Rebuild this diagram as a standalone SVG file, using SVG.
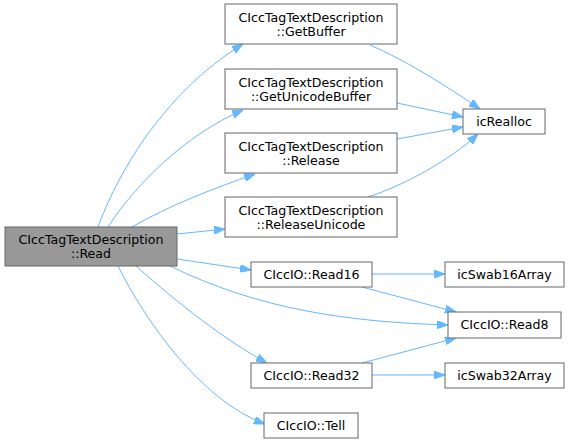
<svg xmlns="http://www.w3.org/2000/svg" width="569" height="443" viewBox="0 0 569 443">
<style>
.n rect{fill:#fff;stroke:#666;stroke-width:1}
.n text{font-family:"DejaVu Sans",sans-serif;font-size:12.6px;fill:#000;text-anchor:middle}
.e path{fill:none;stroke:#63b8ff;stroke-width:1;marker-end:url(#a)}
</style>
<defs>
<marker id="a" viewBox="0 0 11 8" refX="11" refY="4" markerWidth="11" markerHeight="8" markerUnits="userSpaceOnUse" orient="auto">
<path d="M0,0 L11,4 L0,8 z" fill="#63b8ff" stroke="#63b8ff"/>
</marker>
</defs>
<rect width="569" height="443" fill="#fff"/>
<g class="e">
<path d="M98,227 C115,180 160,95 243,44"/>
<path d="M108,227 C135,185 185,135 243,110"/>
<path d="M132,227 C170,205 215,188 255,174"/>
<path d="M177,234 L225,229"/>
<path d="M177,259 L251,270"/>
<path d="M170,266 C260,310 350,322 448,325"/>
<path d="M136,266 C180,305 225,340 267,363"/>
<path d="M118,266 C145,320 200,400 265,424"/>
<path d="M370,45 C405,60 445,85 480,109"/>
<path d="M397,103 L463,117"/>
<path d="M397,139 L463,127"/>
<path d="M368,197 C405,185 450,160 478,134"/>
<path d="M372,274 L445,274"/>
<path d="M362,287 L456,312"/>
<path d="M362,363 L456,338"/>
<path d="M372,375 L445,375"/>
</g>
<g id="read" class="n"><rect x="5" y="227" width="172" height="39" style="fill:#999"/><text x="91" y="244">CIccTagTextDescription</text><text x="91" y="257.5">::Read</text></g>
<g id="getbuffer" class="n"><rect x="225" y="4" width="172" height="40"/><text x="311" y="22">CIccTagTextDescription</text><text x="311" y="35.5">::GetBuffer</text></g>
<g id="getunicodebuffer" class="n"><rect x="225" y="69" width="172" height="40"/><text x="311" y="87">CIccTagTextDescription</text><text x="311" y="100.5">::GetUnicodeBuffer</text></g>
<g id="release" class="n"><rect x="225" y="133" width="172" height="40"/><text x="311" y="151">CIccTagTextDescription</text><text x="311" y="164.5">::Release</text></g>
<g id="releaseunicode" class="n"><rect x="225" y="197" width="172" height="40"/><text x="311" y="215">CIccTagTextDescription</text><text x="311" y="228.5">::ReleaseUnicode</text></g>
<g id="icrealloc" class="n"><rect x="463" y="109" width="82" height="25"/><text x="504" y="125.5">icRealloc</text></g>
<g id="read16" class="n"><rect x="251" y="262" width="121" height="25"/><text x="311.5" y="278.5">CIccIO::Read16</text></g>
<g id="icswab16" class="n"><rect x="445" y="262" width="119" height="25"/><text x="504.5" y="278.5">icSwab16Array</text></g>
<g id="read8" class="n"><rect x="448" y="312" width="113" height="26"/><text x="504.5" y="329">CIccIO::Read8</text></g>
<g id="read32" class="n"><rect x="251" y="363" width="121" height="25"/><text x="311.5" y="379.5">CIccIO::Read32</text></g>
<g id="icswab32" class="n"><rect x="445" y="363" width="119" height="25"/><text x="504.5" y="379.5">icSwab32Array</text></g>
<g id="tell" class="n"><rect x="264" y="413" width="94" height="25"/><text x="311" y="429.5">CIccIO::Tell</text></g>
</svg>
